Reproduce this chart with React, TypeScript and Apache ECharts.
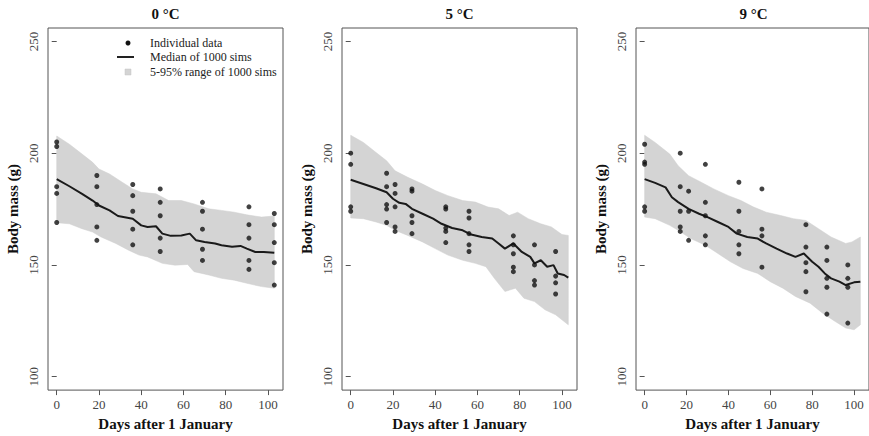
import React, { useEffect, useRef } from "react";
import * as echarts from "echarts";

// ---------- Data ----------
const panelTitles = ["0 °C", "5 °C", "9 °C"];
const xTicks = [0, 20, 40, 60, 80, 100];
const yTicks = [100, 150, 200, 250];

// Individual data (days, masses per day)
const daysA = [0, 19, 36, 49, 69, 91, 103];
const massA = [
  [205, 203, 185, 182, 169],
  [190, 185, 177, 167, 161],
  [186, 181, 174, 166, 159],
  [184, 178, 172, 162, 156],
  [178, 174, 166, 157, 152],
  [176, 168, 162, 152, 148],
  [173, 168, 160, 151, 141],
];
const daysB = [0, 17, 21, 29, 45, 56, 77, 87, 97];
const massB = [
  [200, 195, 176, 174],
  [191, 185, 177, 175, 169],
  [186, 182, 176, 167, 165],
  [184, 183, 172, 169, 164],
  [176, 175, 166.5, 165, 160],
  [174, 171, 164, 159, 156],
  [163, 159, 155, 149, 147],
  [159, 150, 143, 141],
  [156, 145, 142, 137],
];
const daysC = [0, 17, 21, 29, 45, 56, 77, 87, 97];
const massC = [
  [204, 196, 195, 176, 174],
  [200, 185, 174, 167, 165],
  [183, 174, 161],
  [195, 178, 172, 163, 159],
  [187, 174, 165, 159, 155],
  [184, 166, 163, 149],
  [168, 158, 151, 147, 138],
  [158, 152, 144, 140, 128],
  [150, 144, 140, 124],
];

// Median of 1000 sims
const medDaysA = [0, 6, 12, 17, 20, 25, 29, 36, 40, 43, 47, 50, 54, 59, 63, 66, 70, 75, 78, 83, 87, 90, 94, 98, 103];
const medA = [188.4, 185.2, 181.8, 178.8, 176.6, 174.4, 171.9, 170.7, 167.7, 167, 167.3, 164, 163, 163.2, 164, 161, 160.3, 159.6, 158.8, 158.1, 158.5, 157.3, 155.8, 155.8, 155.4];
const medDaysB = [0, 6, 12, 17, 20, 23, 26, 29, 34, 39, 43, 48, 53, 57, 62, 67, 70, 73, 77, 81, 85, 87, 90, 93, 96, 98, 101, 103];
const medB = [188.1, 186.2, 184.3, 182.5, 179.6, 177.8, 177.3, 175.1, 172.9, 170.7, 168.4, 166.5, 165.5, 163.6, 162.5, 161.8, 159.6, 157.3, 159.6, 155.8, 153.6, 150.7, 152.1, 149.2, 149.9, 146.2, 145.5, 144.3];
const medDaysC = [0, 5, 10, 13, 16, 21, 26, 30, 35, 40, 44, 49, 54, 58, 63, 68, 72, 76, 80, 83, 86, 89, 93, 96, 100, 103];
const medC = [188.4, 186.7, 184.7, 180.3, 178.1, 175.1, 172.9, 171.4, 169.2, 167, 164, 162.5, 161.8, 159.6, 157.3, 155.1, 153.6, 155.1, 151.4, 149.2, 146.2, 144, 142.5, 141, 142.2, 142.5];

// 5-95% range of 1000 sims
const upDaysA = [0, 6, 12, 17, 20, 25, 31, 36, 40, 47, 53, 59, 65, 72, 78, 84, 90, 97, 103];
const upA = [207.7, 204, 199.6, 195.9, 192.9, 190.7, 187, 184, 182.5, 181.8, 178.8, 178.8, 177.3, 175.1, 174.4, 173.6, 172.4, 171.4, 171.9];
const loDaysA = [0, 6, 12, 17, 21, 28, 34, 39, 43, 50, 56, 62, 65, 72, 78, 84, 90, 97, 103];
const loA = [168.9, 168.4, 166.2, 164.7, 162.5, 159.6, 156.6, 154.4, 153.6, 150.7, 149.9, 150.2, 147, 145.5, 144, 143.2, 141.8, 140.3, 139.6];

const upDaysB = [0, 6, 12, 17, 21, 27, 34, 40, 46, 53, 59, 65, 70, 75, 79, 84, 90, 95, 100, 103];
const upB = [208, 204.8, 200.3, 196.6, 192.1, 189.2, 186.2, 183.3, 181, 178.8, 178.1, 175.9, 175.1, 172.1, 173.6, 170.7, 168.4, 167, 163.6, 163.2];
const loDaysB = [0, 6, 12, 17, 21, 27, 34, 40, 46, 53, 59, 64, 68, 73, 78, 82, 87, 92, 97, 101, 103];
const loB = [171, 170.7, 169.2, 167.7, 165.5, 163.2, 160.3, 157.3, 154.4, 152.1, 150.7, 149.2, 144, 138.1, 139.6, 135.1, 133.6, 129.9, 127.7, 124.7, 123.2];

const upDaysC = [0, 5, 12, 16, 21, 27, 33, 40, 46, 52, 58, 65, 71, 77, 83, 89, 96, 99, 103];
const upC = [208, 204.8, 199.6, 194.4, 189.9, 187, 184, 181, 178.8, 175.9, 173.6, 172.1, 170.7, 169.9, 166.2, 162.5, 159.6, 160.3, 162.5];
const loDaysC = [0, 5, 12, 16, 22, 29, 35, 41, 47, 54, 60, 66, 72, 79, 85, 91, 96, 100, 103];
const loC = [171.4, 170.7, 167.7, 165.5, 161.8, 158.8, 155.1, 151.4, 148.4, 146.2, 142.5, 139.6, 135.9, 132.9, 128.4, 124.7, 121.8, 121, 123.2];

const legendLabels = ["Individual data", "Median of 1000 sims", "5-95% range of 1000 sims"];

// ---------- Build ----------
const zip = (xs: number[], ys: number[]) => xs.map((x, i) => [x, ys[i]]);
const flatPts = (days: number[], mass: number[][]) =>
  days.flatMap((d, i) => mass[i].map((m) => [d, m]));

const panels = [
  { title: panelTitles[0], pts: flatPts(daysA, massA), med: zip(medDaysA, medA), up: zip(upDaysA, upA), lo: zip(loDaysA, loA) },
  { title: panelTitles[1], pts: flatPts(daysB, massB), med: zip(medDaysB, medB), up: zip(upDaysB, upB), lo: zip(loDaysB, loB) },
  { title: panelTitles[2], pts: flatPts(daysC, massC), med: zip(medDaysC, medC), up: zip(upDaysC, upC), lo: zip(loDaysC, loC) },
];

const FONT = "'Liberation Serif', 'DejaVu Serif', serif";
const GRID_LEFT = [48, 342, 636];
const GRID_TOP = 28;
const GRID_W = 235;
const GRID_H = 364;
const BOX = "#555";

export default function App() {
  const ref = useRef<HTMLDivElement>(null);
  useEffect(() => {
    const chart = echarts.init(ref.current!, null, { renderer: "svg" });
    const option: any = {
      animation: false,
      backgroundColor: "#fff",
      title: panels.map((p, i) => ({
        text: p.title,
        left: GRID_LEFT[i] + GRID_W / 2,
        top: 6,
        textAlign: "center",
        padding: 0,
        textStyle: { fontFamily: FONT, fontWeight: "bold", fontSize: 15, color: "#111" },
      })),
      grid: panels.map((_, i) => ({
        left: GRID_LEFT[i],
        top: GRID_TOP,
        width: GRID_W,
        height: GRID_H,
        show: true,
        borderColor: BOX,
        borderWidth: 1,
        backgroundColor: "transparent",
        containLabel: false,
      })),
      xAxis: panels.map((_, i) => ({
        type: "value",
        gridIndex: i,
        min: -4.12,
        max: 107.12,
        name: "Days after 1 January",
        nameLocation: "middle",
        nameGap: 25,
        nameTextStyle: { fontFamily: FONT, fontWeight: "bold", fontSize: 15, color: "#111" },
        axisLine: { show: false },
        splitLine: { show: false },
        axisTick: { show: true, customValues: xTicks, length: 5, lineStyle: { color: BOX } },
        axisLabel: { customValues: xTicks, margin: 8, fontFamily: FONT, fontSize: 13, color: "#444" },
      })),
      yAxis: panels.map((_, i) => ({
        type: "value",
        gridIndex: i,
        min: 94,
        max: 256,
        name: "Body mass (g)",
        nameLocation: "middle",
        nameGap: 28,
        nameRotate: 90,
        nameTextStyle: { fontFamily: FONT, fontWeight: "bold", fontSize: 15, color: "#111" },
        axisLine: { show: false },
        splitLine: { show: false },
        axisTick: { show: true, customValues: yTicks, length: 5, lineStyle: { color: BOX } },
        axisLabel: { customValues: yTicks, rotate: 90, margin: 8, fontFamily: FONT, fontSize: 13, color: "#444" },
      })),
      series: panels.flatMap((p, i) => [
        {
          type: "custom",
          xAxisIndex: i,
          yAxisIndex: i,
          silent: true,
          z: 1,
          data: p.up,
          renderItem: (params: any, api: any) => {
            if (params.dataIndex !== 0) return null;
            const pts = [
              ...p.up.map((d) => api.coord(d)),
              ...p.lo.slice().reverse().map((d) => api.coord(d)),
            ];
            return { type: "polygon", shape: { points: pts }, style: { fill: "#d4d4d4", stroke: "#cfcfcf", lineWidth: 0.5 } };
          },
        },
        {
          type: "line",
          xAxisIndex: i,
          yAxisIndex: i,
          data: p.med,
          showSymbol: false,
          silent: true,
          z: 2,
          lineStyle: { color: "#1a1a1a", width: 2 },
        },
        {
          type: "scatter",
          xAxisIndex: i,
          yAxisIndex: i,
          data: p.pts,
          symbolSize: 5,
          silent: true,
          z: 3,
          itemStyle: { color: "#111" },
        },
      ]),
      graphic: [
        { type: "circle", shape: { cx: 128, cy: 43, r: 2.5 }, style: { fill: "#111" } },
        { type: "line", shape: { x1: 117, y1: 57, x2: 134, y2: 57 }, style: { stroke: "#222", lineWidth: 2 } },
        { type: "rect", shape: { x: 125, y: 69, width: 6, height: 6 }, style: { fill: "#d4d4d4", stroke: "#c4c4c4", lineWidth: 0.5 } },
        ...legendLabels.map((t, k) => ({
          type: "text",
          x: 150,
          y: [43, 57, 72][k],
          style: { text: t, fontFamily: FONT, fontSize: 12, fill: "#222", textVerticalAlign: "middle", verticalAlign: "middle" },
        })),
      ],
    };
    chart.setOption(option);
    return () => chart.dispose();
  }, []);
  return (
    <div
      ref={ref}
      style={{ position: "absolute", left: 0, top: 0, width: 869, height: 436, background: "#fff" }}
    />
  );
}
